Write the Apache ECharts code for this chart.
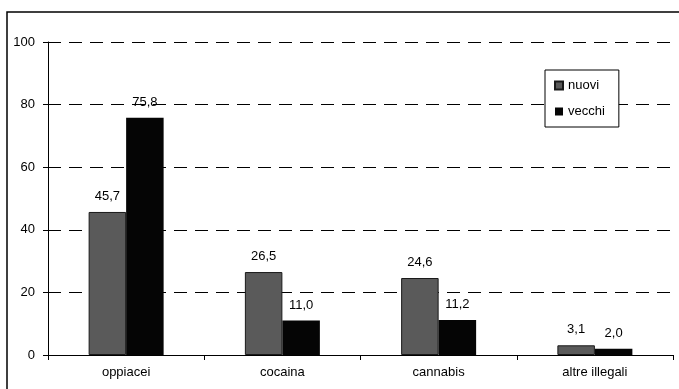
<!DOCTYPE html>
<html>
<head>
<meta charset="utf-8">
<script src="https://cdn.jsdelivr.net/npm/echarts@6/dist/echarts.min.js"></script>
<style>
  html,body{margin:0;padding:0;background:#fff;}
  #main{width:679px;height:389px;}
</style>
</head>
<body>
<div id="main"></div>
<script>
var categories = ['oppiacei', 'cocaina', 'cannabis', 'altre illegali'];
var nuovi = [45.7, 26.5, 24.6, 3.1];
var vecchi = [75.8, 11.0, 11.2, 2.0];
var yTicks = [0, 20, 40, 60, 80, 100];

var vender = {
  init:function (){
    this.echarts();
  },
  echarts:function (){
    var myChart = echarts.init(document.getElementById('main'));
    var fmt = function (p){
      return p.value.toFixed(1).replace('.', ',');
    };
    var option = {
      animation:false,
      textStyle:{fontFamily:'Liberation Sans, Arial', color:'#000'},
      /*cornice esterna*/
      graphic:[{
        type:'rect',
        shape:{x:7, y:12, width:680, height:390},
        style:{fill:'none', stroke:'#000', lineWidth:1.5}
      }],
      grid:{left:48, right:6, top:42, bottom:34},
      legend:{
        left:545,
        top:70,
        orient:'vertical',
        icon:'rect',
        itemWidth:8,
        itemHeight:8,
        itemGap:13,
        padding:[9, 14, 9, 9],
        backgroundColor:'#fff',
        borderColor:'#000',
        borderWidth:1,
        textStyle:{fontSize:13, color:'#000'},
        data:['nuovi', 'vecchi']
      },
      xAxis:{
        type:'category',
        data:categories,
        axisLine:{lineStyle:{color:'#000', width:1}},
        axisTick:{show:true, length:5, lineStyle:{color:'#000'}},
        axisLabel:{color:'#000', fontSize:13, margin:11}
      },
      yAxis:{
        type:'value',
        min:yTicks[0],
        max:yTicks[yTicks.length - 1],
        interval:20,
        axisLine:{show:true, lineStyle:{color:'#000', width:1}},
        axisTick:{show:true, length:5, lineStyle:{color:'#000'}},
        axisLabel:{color:'#000', fontSize:13, margin:13},
        splitLine:{lineStyle:{color:'#000', type:[13, 8], width:1}}
      },
      series:[
        {
          name:'nuovi',
          type:'bar',
          data:nuovi,
          barGap:'0%',
          barCategoryGap:'52%',
          itemStyle:{color:'#5a5a5a', borderColor:'#1a1a1a', borderWidth:1},
          label:{show:true, position:'top', distance:9, fontSize:13, color:'#000', formatter:fmt}
        },
        {
          name:'vecchi',
          type:'bar',
          data:vecchi,
          itemStyle:{color:'#050505'},
          label:{show:true, position:'top', distance:9, fontSize:13, color:'#000', formatter:fmt}
        }
      ]
    };
    myChart.setOption(option);
  }
};
vender.init();
</script>
</body>
</html>
